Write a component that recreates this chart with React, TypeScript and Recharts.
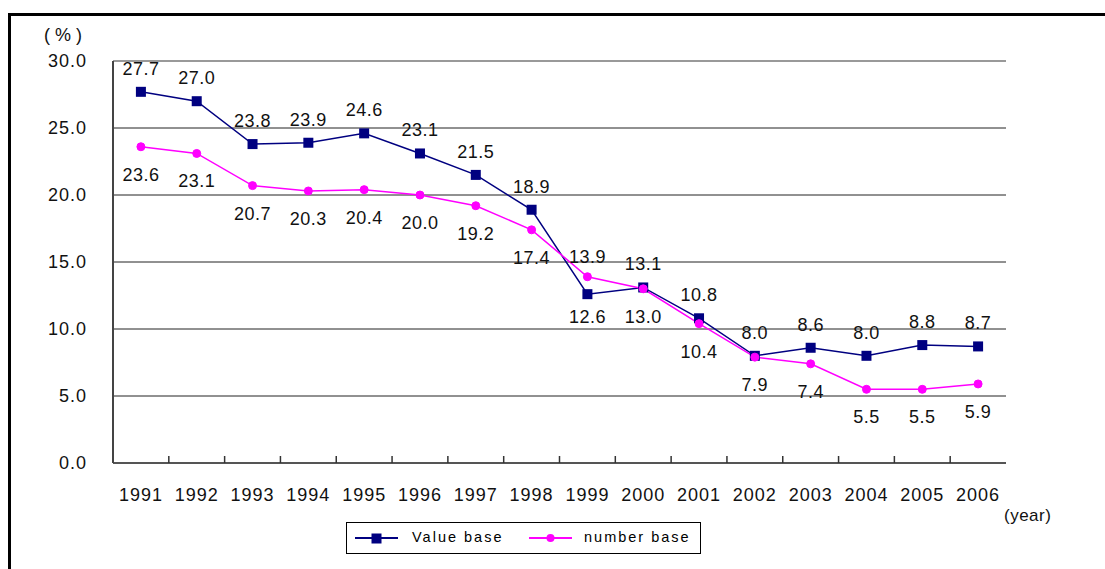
import { LineChart, Line, XAxis, YAxis, CartesianGrid, ReferenceLine, LabelList } from 'recharts';

const years = ['1991', '1992', '1993', '1994', '1995', '1996', '1997', '1998', '1999', '2000', '2001', '2002', '2003', '2004', '2005', '2006'];
const valueBase = [27.7, 27.0, 23.8, 23.9, 24.6, 23.1, 21.5, 18.9, 12.6, 13.1, 10.8, 8.0, 8.6, 8.0, 8.8, 8.7];
const numberBase = [23.6, 23.1, 20.7, 20.3, 20.4, 20.0, 19.2, 17.4, 13.9, 13.0, 10.4, 7.9, 7.4, 5.5, 5.5, 5.9];
const yTicks = [0, 5, 10, 15, 20, 25, 30];

const data = years.map((year, i) => ({ year, valueBase: valueBase[i], numberBase: numberBase[i] }));

const W = 1105;
const H = 569;
const LEFT = 113;
const RIGHT = 99;
const HALF = (W - LEFT - RIGHT) / years.length / 2;
const FONT = '"Liberation Sans", Arial, sans-serif';
const NAVY = '#000080';
const PINK = '#ff00ff';

// 1999 has its labels swapped in the original chart
const flipped = (i: number) => years[i] === '1999';

const XTick = (props: any) => {
  const { x, y, payload, index } = props;
  return (
    <g>
      <text x={x} y={y + 32} textAnchor="middle" dominantBaseline="central" fontSize={18} letterSpacing={1} fill="#111" fontFamily={FONT}>
        {payload.value}
      </text>
      {index > 0 && <line x1={x - HALF} x2={x - HALF} y1={y} y2={y - 7} stroke="#333" strokeWidth={1.5} />}
    </g>
  );
};

const valueLabel = (props: any) => {
  const { x, y, value, index } = props;
  const dy = flipped(index) ? 23 : -23;
  return (
    <text x={x} y={y + dy} textAnchor="middle" dominantBaseline="central" fontSize={18} letterSpacing={0.5} fill="#111" fontFamily={FONT}>
      {Number(value).toFixed(1)}
    </text>
  );
};

const numberLabel = (props: any) => {
  const { x, y, value, index } = props;
  const dy = flipped(index) ? -20 : 28;
  return (
    <text x={x} y={y + dy} textAnchor="middle" dominantBaseline="central" fontSize={18} letterSpacing={0.5} fill="#111" fontFamily={FONT}>
      {Number(value).toFixed(1)}
    </text>
  );
};

const SquareDot = (props: any) => {
  const { cx, cy, index } = props;
  return <rect key={`sq-${index}`} x={cx - 5} y={cy - 5} width={10} height={10} fill={NAVY} />;
};

export default function App() {
  return (
    <div style={{ position: 'fixed', left: 0, top: 0, width: W, height: H, overflow: 'hidden', background: '#fff', fontFamily: FONT }}>
      <div style={{ position: 'absolute', left: 8, top: 13, width: 1300, height: 800, borderTop: '3px solid #000', borderLeft: '3px solid #000' }} />
      <div style={{ position: 'absolute', left: 44, top: 25, fontSize: 18, letterSpacing: 5, color: '#111' }}>(%)</div>
      <div style={{ position: 'absolute', left: 1004, top: 506, fontSize: 17, letterSpacing: 0.5, color: '#111' }}>(year)</div>

      <LineChart width={W} height={H} data={data} margin={{ top: 61, right: RIGHT, left: 0, bottom: 66 }}>
        <CartesianGrid vertical={false} stroke="#222" strokeWidth={1} />
        <XAxis
          dataKey="year"
          height={40}
          padding={{ left: HALF, right: HALF }}
          axisLine={{ stroke: '#555', strokeWidth: 2 }}
          tickLine={false}
          tickSize={0}
          tickMargin={0}
          interval={0}
          tick={<XTick />}
        />
        <YAxis
          width={LEFT}
          domain={[0, 30]}
          ticks={yTicks}
          tickFormatter={(v: number) => v.toFixed(1)}
          axisLine={{ stroke: '#444', strokeWidth: 2 }}
          tickLine={false}
          tickSize={0}
          tickMargin={26}
          tick={{ fontSize: 18, fill: '#111', fontFamily: FONT, letterSpacing: 1 }}
        />
        <YAxis yAxisId="r" orientation="right" width={0} domain={[0, 30]} tick={false} tickLine={false} axisLine={{ stroke: '#999', strokeWidth: 2 }} />
        <ReferenceLine y={30} stroke="#999" strokeWidth={2} />
        <Line
          dataKey="valueBase"
          stroke={NAVY}
          strokeWidth={1.5}
          dot={<SquareDot />}
          isAnimationActive={false}
        >
          <LabelList dataKey="valueBase" content={valueLabel} />
        </Line>
        <Line
          dataKey="numberBase"
          stroke={PINK}
          strokeWidth={1.5}
          dot={{ r: 4, fill: PINK, stroke: PINK, strokeWidth: 1 }}
          isAnimationActive={false}
        >
          <LabelList dataKey="numberBase" content={numberLabel} />
        </Line>
      </LineChart>

      <div style={{ position: 'absolute', left: 346, top: 522, width: 355, height: 32, border: '1px solid #000', boxSizing: 'border-box' }}>
        <svg width={60} height={31} style={{ position: 'absolute', left: 8, top: 0 }}>
          <line x1={0} x2={43} y1={15} y2={15} stroke={NAVY} strokeWidth={2} />
          <rect x={16.5} y={10.5} width={10} height={10} fill={NAVY} />
        </svg>
        <div style={{ position: 'absolute', left: 65, top: 6, fontSize: 14.5, letterSpacing: 2, color: '#000' }}>Value base</div>
        <svg width={60} height={31} style={{ position: 'absolute', left: 182, top: 0 }}>
          <line x1={0} x2={43} y1={15} y2={15} stroke={PINK} strokeWidth={2} />
          <circle cx={21.5} cy={15} r={4} fill={PINK} />
        </svg>
        <div style={{ position: 'absolute', left: 237, top: 6, fontSize: 14.5, letterSpacing: 2, color: '#000' }}>number base</div>
      </div>
    </div>
  );
}
